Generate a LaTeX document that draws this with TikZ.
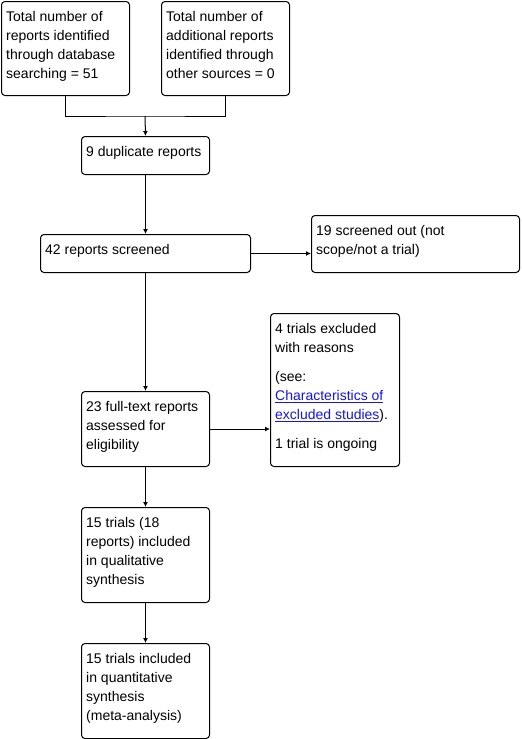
\documentclass[tikz,border=0pt]{standalone}
\usepackage{fontspec}
\setmainfont{Liberation Sans}
\usetikzlibrary{arrows.meta,calc}
\definecolor{linkblue}{RGB}{20,20,235}
\newcommand{\lnk}[1]{\textcolor{linkblue}{\underline{#1}}}
\begin{document}
\begin{tikzpicture}[x=1pt,y=-1pt,
  box/.style={draw=black,line width=1pt,rounded corners=3.5pt,inner sep=0pt,anchor=north west},
  txt/.style={anchor=north west,inner sep=0pt,align=left,font=\fontsize{14}{19}\selectfont},
  arr/.style={line width=1pt,-{Latex[length=5pt,width=5pt]}},
  ln/.style={line width=1pt}]
\useasboundingbox (0,0) rectangle (522,739);
% boxes
\node[box,minimum width=128pt,minimum height=94pt] (A) at (1,1) {};
\node[box,minimum width=128pt,minimum height=94pt] (B) at (161,1) {};
\node[box,minimum width=128pt,minimum height=38pt] (C) at (81,136) {};
\node[box,minimum width=210pt,minimum height=38pt] (D) at (40,234) {};
\node[box,minimum width=208pt,minimum height=57pt] (E) at (311,215) {};
\node[box,minimum width=129pt,minimum height=153pt] (G) at (270,313) {};
\node[box,minimum width=128pt,minimum height=75pt] (F) at (81,391) {};
\node[box,minimum width=128pt,minimum height=95pt] (H) at (81,507) {};
\node[box,minimum width=128pt,minimum height=95pt] (I) at (81,643) {};
% texts
\node[txt] (tA) at ($(A.north west)+(5,9)$) {\rule{0pt}{11pt}Total number of\\reports identified\\through database\\searching = 51};
\node[txt] (tB) at ($(B.north west)+(5,9)$) {\rule{0pt}{11pt}Total number of\\additional reports\\identified through\\other sources = 0};
\node[txt] (tC) at ($(C.north west)+(5,9)$) {\rule{0pt}{11pt}9 duplicate reports};
\node[txt] (tD) at ($(D.north west)+(5,9)$) {\rule{0pt}{11pt}42 reports screened};
\node[txt] (tE) at ($(E.north west)+(5,9)$) {\rule{0pt}{11pt}19 screened out (not\\scope/not a trial)};
\node[txt] (tG) at ($(G.north west)+(5,9)$) {\rule{0pt}{11pt}4 trials excluded\\with reasons\\[10pt](see:\\\lnk{Characteristics of}\\\lnk{excluded studies}).\\[10pt]1 trial is ongoing};
\node[txt] (tF) at ($(F.north west)+(5,9)$) {\rule{0pt}{11pt}23 full-text reports\\assessed for\\eligibility};
\node[txt] (tH) at ($(H.north west)+(5,9)$) {\rule{0pt}{11pt}15 trials (18\\reports) included\\in qualitative\\synthesis};
\node[txt] (tI) at ($(I.north west)+(5,9)$) {\rule{0pt}{11pt}15 trials included\\in quantitative\\synthesis\\(meta-analysis)};
% connectors
\coordinate (m) at (145,116);
\draw[ln] (A.south) |- (m) -| (B.south);
\draw[arr] (m) -- (C.north);
\draw[arr] (C.south) -- (D.north);
\draw[arr] (D.east) -- (D.east -| E.west);
\draw[arr] (D.south) -- (F.north);
\draw[arr] (F.east) -- (F.east -| G.west);
\draw[arr] (F.south) -- (H.north);
\draw[arr] (H.south) -- (I.north);
\end{tikzpicture}
\end{document}
